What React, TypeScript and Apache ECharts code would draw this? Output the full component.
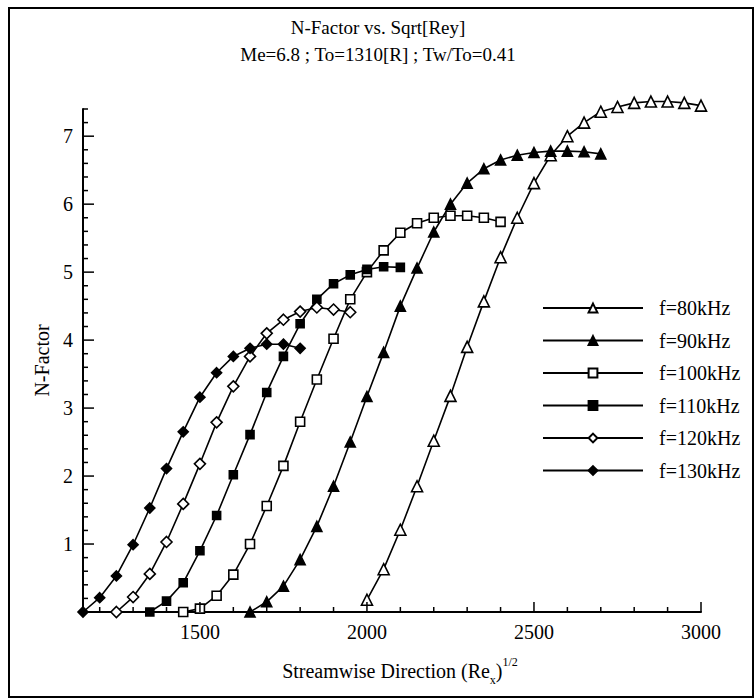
import React, { useEffect, useRef } from "react";
import * as echarts from "echarts";

const TITLE = "N-Factor vs. Sqrt[Rey]";
const SUBTITLE = "Me=6.8 ; To=1310[R] ; Tw/To=0.41";

const NAMES = ["f=80kHz", "f=90kHz", "f=100kHz", "f=110kHz", "f=120kHz", "f=130kHz"];

const X80 = [2000, 2050, 2100, 2150, 2200, 2250, 2300, 2350, 2400, 2450, 2500, 2550, 2600, 2650, 2700, 2750, 2800, 2850, 2900, 2950, 3000];
const N80 = [0.18, 0.63, 1.21, 1.85, 2.52, 3.18, 3.9, 4.57, 5.22, 5.8, 6.31, 6.72, 7.0, 7.2, 7.36, 7.43, 7.49, 7.51, 7.51, 7.49, 7.45];

const X90 = [1650, 1700, 1750, 1800, 1850, 1900, 1950, 2000, 2050, 2100, 2150, 2200, 2250, 2300, 2350, 2400, 2450, 2500, 2550, 2600, 2650, 2700];
const N90 = [0, 0.15, 0.38, 0.77, 1.26, 1.85, 2.5, 3.17, 3.82, 4.5, 5.06, 5.59, 6.0, 6.31, 6.52, 6.65, 6.72, 6.76, 6.78, 6.78, 6.77, 6.74];

const X100 = [1450, 1500, 1550, 1600, 1650, 1700, 1750, 1800, 1850, 1900, 1950, 2000, 2050, 2100, 2150, 2200, 2250, 2300, 2350, 2400];
const N100 = [0, 0.05, 0.24, 0.55, 1.0, 1.56, 2.15, 2.8, 3.42, 4.02, 4.6, 5.0, 5.32, 5.58, 5.72, 5.8, 5.83, 5.83, 5.8, 5.74];

const X110 = [1350, 1400, 1450, 1500, 1550, 1600, 1650, 1700, 1750, 1800, 1850, 1900, 1950, 2000, 2050, 2100];
const N110 = [0, 0.16, 0.43, 0.9, 1.42, 2.02, 2.61, 3.23, 3.76, 4.24, 4.6, 4.83, 4.96, 5.04, 5.08, 5.07];

const X120 = [1250, 1300, 1350, 1400, 1450, 1500, 1550, 1600, 1650, 1700, 1750, 1800, 1850, 1900, 1950];
const N120 = [0, 0.22, 0.56, 1.03, 1.59, 2.18, 2.79, 3.32, 3.76, 4.1, 4.3, 4.42, 4.48, 4.45, 4.41];

const X130 = [1150, 1200, 1250, 1300, 1350, 1400, 1450, 1500, 1550, 1600, 1650, 1700, 1750, 1800];
const N130 = [0, 0.21, 0.53, 0.99, 1.53, 2.11, 2.65, 3.16, 3.52, 3.76, 3.88, 3.94, 3.94, 3.88];

const X_MIN = 1150;
const X_MAX = 3000;
const Y_MIN = 0;
const Y_MAX = 7.4;

const X_MAJOR_TICKS = [1500, 2000, 2500, 3000];
const X_MINOR_TICKS = [1200, 1300, 1400, 1600, 1700, 1800, 1900, 2100, 2200, 2300, 2400, 2600, 2700, 2800, 2900];
const Y_MAJOR_TICKS = [1, 2, 3, 4, 5, 6, 7];
const Y_MINOR_TICKS = [0.2, 0.4, 0.6, 0.8, 1.2, 1.4, 1.6, 1.8, 2.2, 2.4, 2.6, 2.8, 3.2, 3.4, 3.6, 3.8, 4.2, 4.4, 4.6, 4.8, 5.2, 5.4, 5.6, 5.8, 6.2, 6.4, 6.6, 6.8, 7.2, 7.4];

const FONT = "'Liberation Serif', 'Times New Roman', serif";

const SERIES_DEF = [
  { name: NAMES[0], xs: X80, ys: N80, symbol: "triangle", filled: false, size: 11 },
  { name: NAMES[1], xs: X90, ys: N90, symbol: "triangle", filled: true, size: 10 },
  { name: NAMES[2], xs: X100, ys: N100, symbol: "rect", filled: false, size: 9 },
  { name: NAMES[3], xs: X110, ys: N110, symbol: "rect", filled: true, size: 8 },
  { name: NAMES[4], xs: X120, ys: N120, symbol: "diamond", filled: false, size: 11 },
  { name: NAMES[5], xs: X130, ys: N130, symbol: "diamond", filled: true, size: 10 },
];

function tickSeries(name: string, data: number[][], dir: "x" | "y", len: number) {
  return {
    type: "custom",
    name,
    silent: true,
    clip: false,
    z: 5,
    data,
    encode: { x: 0, y: 1 },
    renderItem: (params: any, api: any) => {
      const p = api.coord([api.value(0), api.value(1)]);
      const shape =
        dir === "x"
          ? { x1: p[0], y1: p[1], x2: p[0], y2: p[1] - len }
          : { x1: p[0], y1: p[1], x2: p[0] + len, y2: p[1] };
      return { type: "line", shape, style: { stroke: "#000", lineWidth: 1.5 } };
    },
  };
}

export default function App() {
  const ref = useRef<HTMLDivElement>(null);

  useEffect(() => {
    if (!ref.current) return;
    const chart = echarts.init(ref.current, null, { renderer: "svg" });

    const lineSeries = SERIES_DEF.map((s) => ({
      type: "line",
      name: s.name,
      data: s.xs.map((x, i) => [x, s.ys[i]]),
      symbol: s.symbol,
      symbolSize: s.size,
      showAllSymbol: true,
      clip: false,
      z: 3,
      lineStyle: { color: "#000", width: 1.6 },
      itemStyle: {
        color: s.filled ? "#000" : "#fff",
        borderColor: "#000",
        borderWidth: 1.6,
      },
      emphasis: { disabled: true },
    }));

    const option: any = {
      animation: false,
      backgroundColor: "#fff",
      textStyle: { fontFamily: FONT, color: "#000" },
      title: [
        {
          text: TITLE,
          left: "center",
          top: 13,
          textStyle: { fontFamily: FONT, fontSize: 19, fontWeight: "normal", color: "#000" },
        },
        {
          text: SUBTITLE,
          left: "center",
          top: 40,
          textStyle: { fontFamily: FONT, fontSize: 19, fontWeight: "normal", color: "#000" },
        },
      ],
      legend: {
        data: NAMES,
        orient: "vertical",
        left: 537,
        top: 292,
        itemWidth: 100,
        itemHeight: 11,
        itemGap: 10.5,
        selectedMode: false,
        textStyle: {
          fontFamily: FONT,
          fontSize: 20,
          lineHeight: 22,
          color: "#000",
          padding: [0, 0, 0, 11],
        },
      },
      grid: { left: 83, right: 55, top: 109, bottom: 88, containLabel: false },
      xAxis: {
        type: "value",
        min: X_MIN,
        max: X_MAX,
        interval: 50,
        name: "{a|Streamwise Direction (Re}{b|x}{a|)}{c|1/2}",
        nameLocation: "middle",
        nameGap: 44,
        nameTextStyle: {
          padding: [0, 0, 0, 16],
          rich: {
            a: { fontFamily: FONT, fontSize: 20, lineHeight: 30, color: "#000" },
            b: { fontFamily: FONT, fontSize: 12, lineHeight: 12, verticalAlign: "bottom", color: "#000" },
            c: { fontFamily: FONT, fontSize: 12, lineHeight: 12, verticalAlign: "top", color: "#000" },
          },
        },
        axisLine: { show: true, lineStyle: { color: "#000", width: 2 } },
        axisTick: { show: false },
        splitLine: { show: false },
        axisLabel: {
          margin: 10,
          fontFamily: FONT,
          fontSize: 20,
          color: "#000",
          formatter: (v: number) => (v % 500 === 0 ? String(v) : ""),
        },
      },
      yAxis: {
        type: "value",
        min: Y_MIN,
        max: Y_MAX,
        interval: 1,
        name: "N-Factor",
        nameLocation: "middle",
        nameGap: 30,
        nameTextStyle: { fontFamily: FONT, fontSize: 20, color: "#000" },
        axisLine: { show: true, lineStyle: { color: "#000", width: 2 } },
        axisTick: { show: false },
        splitLine: { show: false },
        axisLabel: {
          margin: 10,
          fontFamily: FONT,
          fontSize: 20,
          color: "#000",
          formatter: (v: number) => (Number.isInteger(v) && v >= 1 && v <= 7 ? String(v) : ""),
        },
      },
      graphic: [
        {
          type: "rect",
          shape: { x: 9, y: 8, width: 744, height: 689 },
          style: { fill: "none", stroke: "#000", lineWidth: 2 },
          silent: true,
        },
      ],
      series: [
        ...lineSeries,
        tickSeries("xMajor", X_MAJOR_TICKS.map((v) => [v, Y_MIN]), "x", 10),
        tickSeries("xMinor", X_MINOR_TICKS.map((v) => [v, Y_MIN]), "x", 5),
        tickSeries("yMajor", Y_MAJOR_TICKS.map((v) => [X_MIN, v]), "y", 11),
        tickSeries("yMinor", Y_MINOR_TICKS.map((v) => [X_MIN, v]), "y", 5),
      ],
    };

    chart.setOption(option);
    return () => {
      chart.dispose();
    };
  }, []);

  return (
    <div
      ref={ref}
      style={{ position: "absolute", left: 0, top: 0, width: 756, height: 700, background: "#fff" }}
    />
  );
}
